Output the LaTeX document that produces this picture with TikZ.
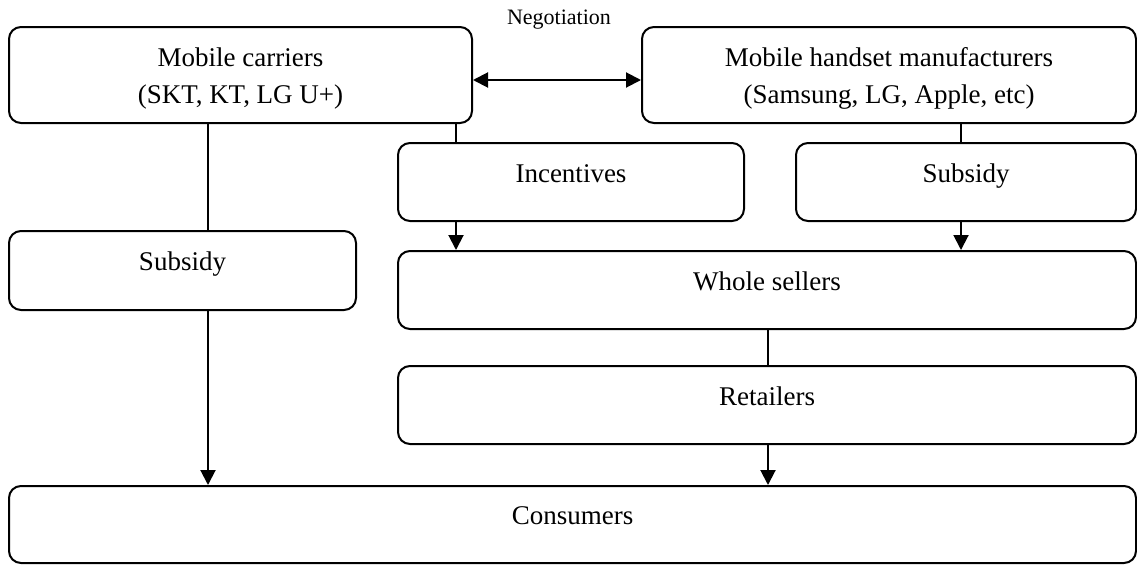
\documentclass[tikz,border=0pt]{standalone}
\usepackage{fontspec}
\setmainfont{Liberation Serif}
\usetikzlibrary{arrows.meta}
\begin{document}
\begin{tikzpicture}[x=1pt,y=-1pt,
  box/.style={draw, line width=2pt, rounded corners=12pt, inner sep=0pt, font=\fontsize{27}{37}\selectfont},
  one/.style={text height=19pt, text depth=19pt},
  two/.style={align=center},
  link/.style={line width=2pt},
  flow/.style={line width=2pt, -{Triangle[length=15pt,width=15pt]}},
  both/.style={line width=2pt, {Triangle[length=15pt,width=15pt]}-{Triangle[length=15pt,width=15pt]}},
  lbl/.style={font=\fontsize{22}{26}\selectfont, inner sep=0pt}
]
\useasboundingbox (0,0) rectangle (1137,565);
\node[box,two,minimum width=463pt,minimum height=96pt] (carriers) at (240.5,75) {\rule{0pt}{26pt}Mobile carriers\\(SKT, KT, LG U+)};
\node[box,two,minimum width=494pt,minimum height=96pt] (handset) at (889,75) {\rule{0pt}{26pt}Mobile handset manufacturers\\(Samsung, LG, Apple, etc)};
\node[box,one,minimum width=346pt,minimum height=78pt] (incent) at (571,182) {Incentives};
\node[box,one,minimum width=340pt,minimum height=78pt] (subR) at (966,182) {Subsidy};
\node[box,one,minimum width=347pt,minimum height=79pt] (subL) at (182.5,270.5) {Subsidy};
\node[box,one,minimum width=738pt,minimum height=78pt] (whole) at (767,290) {Whole sellers};
\node[box,one,minimum width=738pt,minimum height=78pt] (retail) at (767,405) {Retailers};
\node[box,one,minimum width=1127pt,minimum height=77pt] (cons) at (572.5,524.5) {Consumers};
\node[lbl] (nego) at (559,20) {Negotiation};
\coordinate (xa) at (208,0);
\coordinate (xb) at (456,0);
\coordinate (xc) at (961,0);
\coordinate (xd) at (768,0);
\draw[both] ([yshift=-5pt]carriers.east) -- ([yshift=-5pt]handset.west);
\draw[link] (carriers.south -| xa) -- (subL.north -| xa);
\draw[flow] (subL.south -| xa) -- (cons.north -| xa);
\draw[link] (carriers.south -| xb) -- (incent.north -| xb);
\draw[flow] (incent.south -| xb) -- (whole.north -| xb);
\draw[link] (handset.south -| xc) -- (subR.north -| xc);
\draw[flow] (subR.south -| xc) -- (whole.north -| xc);
\draw[link] (whole.south -| xd) -- (retail.north -| xd);
\draw[flow] (retail.south -| xd) -- (cons.north -| xd);
\end{tikzpicture}
\end{document}
